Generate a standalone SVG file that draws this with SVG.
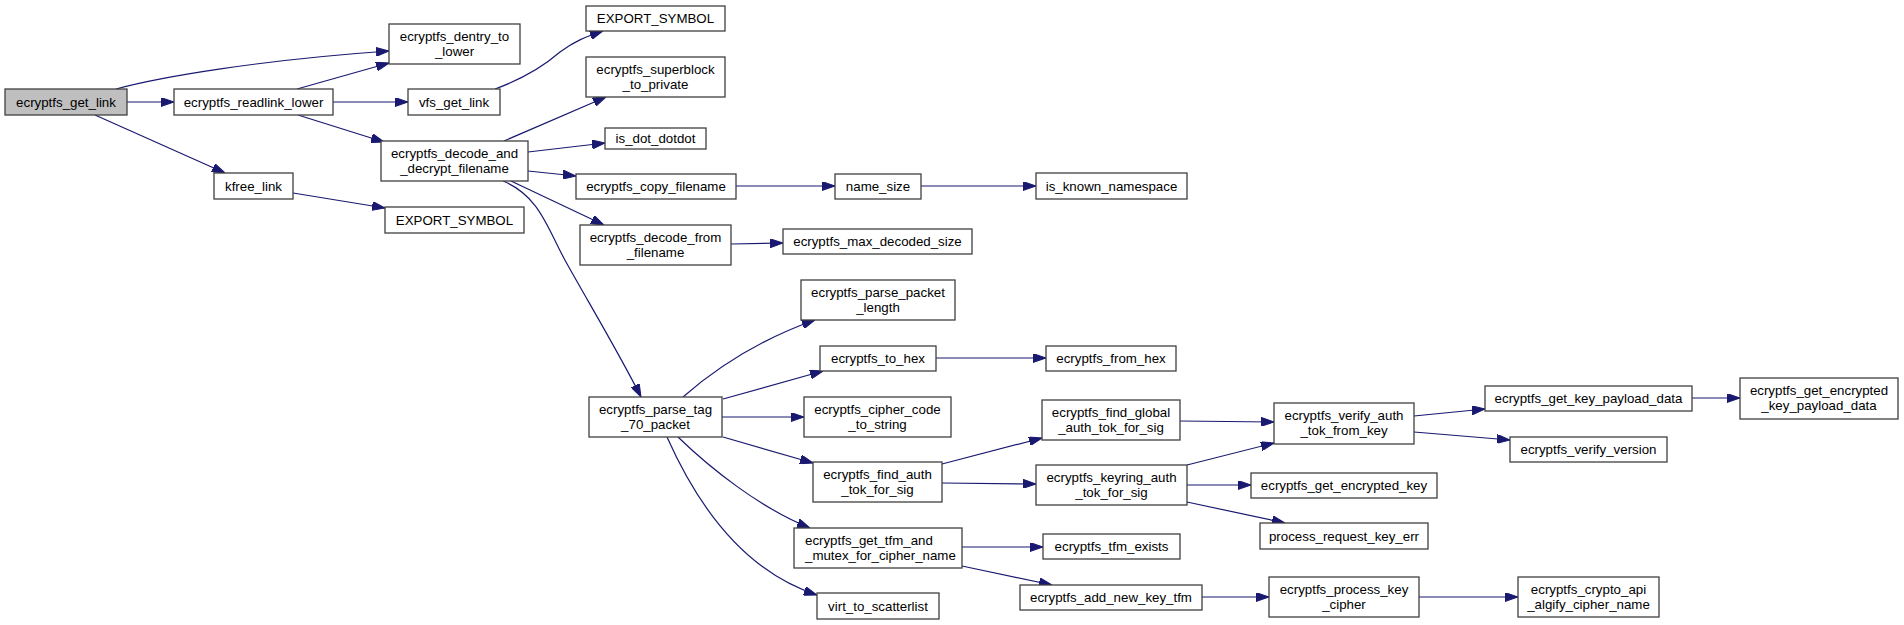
<svg xmlns="http://www.w3.org/2000/svg" width="1904" height="625" viewBox="0 0 1904 625">
<style>
.n rect{fill:#ffffff;stroke:#404040;stroke-width:1.3}
.n.root rect{fill:#bfbfbf}
.n text{font-family:"Liberation Sans",Arial,sans-serif;font-size:13.3px;fill:#000;text-anchor:middle}
.e path{fill:none;stroke:#191970;stroke-width:1.2;marker-end:url(#ah)}
</style>
<defs>
<marker id="ah" viewBox="0 0 13 9" refX="13" refY="4.5" markerWidth="13" markerHeight="9" markerUnits="userSpaceOnUse" orient="auto">
<path d="M0,0 L13,4.5 L0,9 z" fill="#191970" stroke="#191970" stroke-width="1"/>
</marker>
</defs>
<rect width="1904" height="625" fill="#ffffff"/>
<g id="edges" class="e">
<path d="M116,89 C160,77 260,60 389,51"/>
<path d="M127,102 L174,102"/>
<path d="M95,115 L225,173"/>
<path d="M297,89 L389,63"/>
<path d="M333,102 L408,102"/>
<path d="M298,115 L384,142"/>
<path d="M495,89 C525,78 545,65 560,52 C575,41 585,37 603,31"/>
<path d="M293,193 L385,208"/>
<path d="M504,141 L606,97"/>
<path d="M528,152 L605,143"/>
<path d="M528,171 L576,176"/>
<path d="M511,181 L604,225"/>
<path d="M503,181 C540,196 548,230 566,262 C590,305 620,355 641,397"/>
<path d="M736,186 L835,186"/>
<path d="M921,186 L1036,186"/>
<path d="M731,244 L783,243"/>
<path d="M683,397 C707,376 750,343 815,320"/>
<path d="M723,399 L823,371"/>
<path d="M722,417 L804,417"/>
<path d="M723,437 L813,463"/>
<path d="M678,437 C710,468 760,508 810,528"/>
<path d="M667,437 C695,500 740,570 817,595"/>
<path d="M936,358 L1046,358"/>
<path d="M942,464 L1042,438"/>
<path d="M942,483 L1036,484"/>
<path d="M962,547 L1043,547"/>
<path d="M962,566 L1052,585"/>
<path d="M1180,421 L1274,422"/>
<path d="M1187,465 L1274,443"/>
<path d="M1187,485 L1251,485"/>
<path d="M1187,502 L1285,523"/>
<path d="M1414,416 L1485,409"/>
<path d="M1414,432 L1510,440"/>
<path d="M1692,398 L1740,398"/>
<path d="M1202,597 L1269,597"/>
<path d="M1419,597 L1518,597"/>
</g>
<g id="n0" class="n root"><rect x="5" y="89" width="122" height="26"/><text x="66" y="106.5">ecryptfs_get_link</text></g>
<g id="n1" class="n"><rect x="389" y="24" width="131" height="40"/><text x="454.5" y="40.5">ecryptfs_dentry_to</text><text x="454.5" y="55.5">_lower</text></g>
<g id="n2" class="n"><rect x="174" y="89" width="159" height="26"/><text x="253.5" y="106.5">ecryptfs_readlink_lower</text></g>
<g id="n3" class="n"><rect x="408" y="89" width="92" height="26"/><text x="454" y="106.5">vfs_get_link</text></g>
<g id="n4" class="n"><rect x="586" y="6" width="139" height="25"/><text x="655.5" y="23">EXPORT_SYMBOL</text></g>
<g id="n5" class="n"><rect x="381" y="141" width="147" height="40"/><text x="454.5" y="157.5">ecryptfs_decode_and</text><text x="454.5" y="172.5">_decrypt_filename</text></g>
<g id="n6" class="n"><rect x="586" y="57" width="139" height="40"/><text x="655.5" y="73.5">ecryptfs_superblock</text><text x="655.5" y="88.5">_to_private</text></g>
<g id="n7" class="n"><rect x="605" y="128" width="101" height="21"/><text x="655.5" y="143">is_dot_dotdot</text></g>
<g id="n8" class="n"><rect x="576" y="174" width="160" height="25"/><text x="656" y="191">ecryptfs_copy_filename</text></g>
<g id="n9" class="n"><rect x="835" y="174" width="86" height="25"/><text x="878" y="191">name_size</text></g>
<g id="n10" class="n"><rect x="1036" y="173" width="151" height="26"/><text x="1111.5" y="190.5">is_known_namespace</text></g>
<g id="n11" class="n"><rect x="580" y="225" width="151" height="40"/><text x="655.5" y="241.5">ecryptfs_decode_from</text><text x="655.5" y="256.5">_filename</text></g>
<g id="n12" class="n"><rect x="783" y="229" width="189" height="25"/><text x="877.5" y="246">ecryptfs_max_decoded_size</text></g>
<g id="n13" class="n"><rect x="589" y="397" width="133" height="40"/><text x="655.5" y="413.5">ecryptfs_parse_tag</text><text x="655.5" y="428.5">_70_packet</text></g>
<g id="n14" class="n"><rect x="801" y="280" width="154" height="40"/><text x="878" y="296.5">ecryptfs_parse_packet</text><text x="878" y="311.5">_length</text></g>
<g id="n15" class="n"><rect x="820" y="346" width="116" height="25"/><text x="878" y="363">ecryptfs_to_hex</text></g>
<g id="n16" class="n"><rect x="1046" y="346" width="130" height="25"/><text x="1111" y="363">ecryptfs_from_hex</text></g>
<g id="n17" class="n"><rect x="804" y="397" width="147" height="40"/><text x="877.5" y="413.5">ecryptfs_cipher_code</text><text x="877.5" y="428.5">_to_string</text></g>
<g id="n18" class="n"><rect x="813" y="462" width="129" height="40"/><text x="877.5" y="478.5">ecryptfs_find_auth</text><text x="877.5" y="493.5">_tok_for_sig</text></g>
<g id="n19" class="n"><rect x="1042" y="400" width="138" height="40"/><text x="1111" y="416.5">ecryptfs_find_global</text><text x="1111" y="431.5">_auth_tok_for_sig</text></g>
<g id="n20" class="n"><rect x="1274" y="403" width="140" height="41"/><text x="1344" y="420">ecryptfs_verify_auth</text><text x="1344" y="435">_tok_from_key</text></g>
<g id="n21" class="n"><rect x="1485" y="386" width="207" height="25"/><text x="1588.5" y="403">ecryptfs_get_key_payload_data</text></g>
<g id="n22" class="n"><rect x="1740" y="378" width="158" height="41"/><text x="1819" y="395">ecryptfs_get_encrypted</text><text x="1819" y="410">_key_payload_data</text></g>
<g id="n23" class="n"><rect x="1510" y="437" width="157" height="25"/><text x="1588.5" y="454">ecryptfs_verify_version</text></g>
<g id="n24" class="n"><rect x="1036" y="465" width="151" height="40"/><text x="1111.5" y="481.5">ecryptfs_keyring_auth</text><text x="1111.5" y="496.5">_tok_for_sig</text></g>
<g id="n25" class="n"><rect x="1251" y="473" width="186" height="25"/><text x="1344" y="490">ecryptfs_get_encrypted_key</text></g>
<g id="n26" class="n"><rect x="1260" y="523" width="168" height="26"/><text x="1344" y="540.5">process_request_key_err</text></g>
<g id="n27" class="n"><rect x="794" y="528" width="168" height="40"/><text x="805" y="544.5" style="text-anchor:start">ecryptfs_get_tfm_and</text><text x="805" y="559.5" style="text-anchor:start">_mutex_for_cipher_name</text></g>
<g id="n28" class="n"><rect x="1043" y="534" width="137" height="25"/><text x="1111.5" y="551">ecryptfs_tfm_exists</text></g>
<g id="n29" class="n"><rect x="1020" y="585" width="182" height="25"/><text x="1111" y="602">ecryptfs_add_new_key_tfm</text></g>
<g id="n30" class="n"><rect x="1269" y="577" width="150" height="40"/><text x="1344" y="593.5">ecryptfs_process_key</text><text x="1344" y="608.5">_cipher</text></g>
<g id="n31" class="n"><rect x="1518" y="577" width="141" height="40"/><text x="1588.5" y="593.5">ecryptfs_crypto_api</text><text x="1588.5" y="608.5">_algify_cipher_name</text></g>
<g id="n32" class="n"><rect x="817" y="593" width="122" height="26"/><text x="878" y="610.5">virt_to_scatterlist</text></g>
<g id="n33" class="n"><rect x="214" y="173" width="79" height="26"/><text x="253.5" y="190.5">kfree_link</text></g>
<g id="n34" class="n"><rect x="385" y="207" width="139" height="26"/><text x="454.5" y="224.5">EXPORT_SYMBOL</text></g>
</svg>
